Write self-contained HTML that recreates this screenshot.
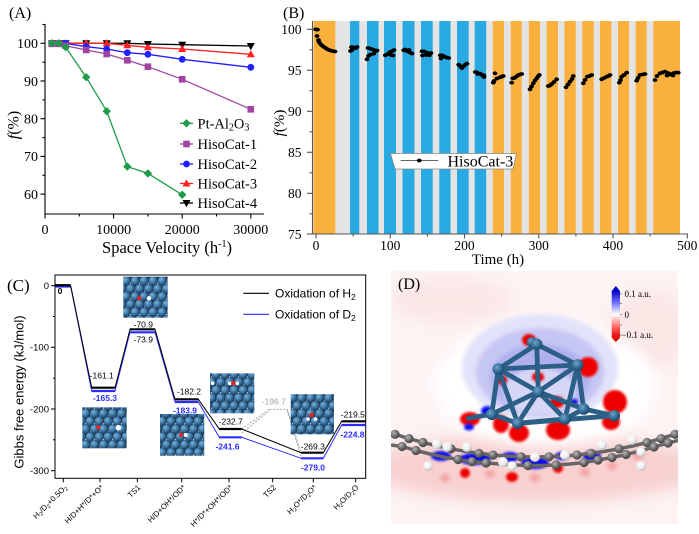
<!DOCTYPE html>
<html><head><meta charset="utf-8"><style>
html,body{margin:0;padding:0;background:#fff;}
svg{display:block;}
</style></head><body>
<svg width="699" height="534" viewBox="0 0 699 534" xmlns="http://www.w3.org/2000/svg">
<defs>
<path id="dia" d="M0,-4.2L4.2,0L0,4.2L-4.2,0Z"/>
<rect id="sq" x="-3.3" y="-3.3" width="6.6" height="6.6"/>
<circle id="cir" r="3.4"/>
<path id="tu" d="M0,-4.2L4,3L-4,3Z"/>
<path id="td" d="M0,4.2L4,-3L-4,-3Z"/>
<ellipse id="dot" rx="2.4" ry="1.9"/>
<radialGradient id="gSph" cx="0.38" cy="0.35" r="0.7">
<stop offset="0" stop-color="#7fb3d9"/><stop offset="0.5" stop-color="#3f7cac"/><stop offset="1" stop-color="#1b3f60"/>
</radialGradient>
<radialGradient id="gClu" cx="0.38" cy="0.35" r="0.7">
<stop offset="0" stop-color="#6ea4cc"/><stop offset="0.6" stop-color="#2f6890"/><stop offset="1" stop-color="#1a4264"/>
</radialGradient>
<radialGradient id="gGray" cx="0.38" cy="0.35" r="0.7">
<stop offset="0" stop-color="#b8b8b8"/><stop offset="0.55" stop-color="#6a6a6a"/><stop offset="1" stop-color="#3e3e3e"/>
</radialGradient>
<radialGradient id="gWhite" cx="0.38" cy="0.35" r="0.7">
<stop offset="0" stop-color="#ffffff"/><stop offset="0.6" stop-color="#ececec"/><stop offset="1" stop-color="#b5b5b5"/>
</radialGradient>
<pattern id="lat" width="9" height="15.6" patternUnits="userSpaceOnUse">
<rect width="9" height="15.6" fill="#1c3550"/>
<circle cx="0" cy="0" r="4.4" fill="url(#gSph)"/>
<circle cx="9" cy="0" r="4.4" fill="url(#gSph)"/>
<circle cx="4.5" cy="7.8" r="4.4" fill="url(#gSph)"/>
<circle cx="0" cy="15.6" r="4.4" fill="url(#gSph)"/>
<circle cx="9" cy="15.6" r="4.4" fill="url(#gSph)"/>
<circle cx="4.5" cy="2.6" r="0.7" fill="#cfe3f2"/>
<circle cx="0" cy="10.4" r="0.7" fill="#cfe3f2"/>
</pattern>
<linearGradient id="cbar" x1="0" y1="0" x2="0" y2="1">
<stop offset="0" stop-color="#0000c8"/><stop offset="0.25" stop-color="#7070ff"/><stop offset="0.5" stop-color="#ffffff"/><stop offset="0.75" stop-color="#ff7070"/><stop offset="1" stop-color="#e00000"/>
</linearGradient>
<filter id="b1" x="-50%" y="-50%" width="200%" height="200%"><feGaussianBlur stdDeviation="1.2"/></filter>
<filter id="b2" x="-50%" y="-50%" width="200%" height="200%"><feGaussianBlur stdDeviation="2"/></filter>
<filter id="b4" x="-50%" y="-50%" width="200%" height="200%"><feGaussianBlur stdDeviation="4"/></filter>
<filter id="b8" x="-50%" y="-50%" width="200%" height="200%"><feGaussianBlur stdDeviation="8"/></filter>
<clipPath id="clipD"><rect x="391" y="271" width="287" height="253"/></clipPath>
</defs>

<!-- ================= PANEL A ================= -->
<g font-family="'Liberation Serif', serif" fill="#000">
<text x="9" y="18" font-size="16">(A)</text>
<g stroke="#000" stroke-width="1.1" fill="none">
<line x1="45" y1="24" x2="45" y2="214.5"/>
<line x1="44.5" y1="214" x2="264" y2="214"/>
<line x1="40.5" y1="43.3" x2="45" y2="43.3"/>
<line x1="40.5" y1="81" x2="45" y2="81"/>
<line x1="40.5" y1="118.7" x2="45" y2="118.7"/>
<line x1="40.5" y1="156.4" x2="45" y2="156.4"/>
<line x1="40.5" y1="194.1" x2="45" y2="194.1"/>
<line x1="42.5" y1="24.5" x2="45" y2="24.5"/>
<line x1="42.5" y1="62.2" x2="45" y2="62.2"/>
<line x1="42.5" y1="99.9" x2="45" y2="99.9"/>
<line x1="42.5" y1="137.6" x2="45" y2="137.6"/>
<line x1="42.5" y1="175.3" x2="45" y2="175.3"/>
<line x1="45" y1="214" x2="45" y2="218.5"/>
<line x1="113.6" y1="214" x2="113.6" y2="218.5"/>
<line x1="182.2" y1="214" x2="182.2" y2="218.5"/>
<line x1="250.8" y1="214" x2="250.8" y2="218.5"/>
<line x1="79.3" y1="214" x2="79.3" y2="216.5"/>
<line x1="147.9" y1="214" x2="147.9" y2="216.5"/>
<line x1="216.5" y1="214" x2="216.5" y2="216.5"/>
</g>
<g font-size="14" text-anchor="end">
<text x="38" y="48">100</text>
<text x="38" y="86">90</text>
<text x="38" y="123.5">80</text>
<text x="38" y="161">70</text>
<text x="38" y="199">60</text>
</g>
<g font-size="14" text-anchor="middle">
<text x="45" y="234">0</text>
<text x="113.6" y="234">10000</text>
<text x="182.2" y="234">20000</text>
<text x="250.8" y="234">30000</text>
</g>
<text x="167" y="253" font-size="16.5" text-anchor="middle">Space Velocity (h<tspan font-size="10" dy="-6">-1</tspan><tspan dy="6">)</tspan></text>
<text transform="translate(18.5,125) rotate(-90)" font-size="16" text-anchor="middle"><tspan font-style="italic">f</tspan>(%)</text>

<g fill="none" stroke-width="1.3">
<polyline stroke="#000" points="51.9,43.3 58.7,43.3 65.6,43.3 86.2,43.3 106.7,43.3 127.3,43.3 147.9,44 182.2,44.7 250.8,46"/>
<polyline stroke="#ff2020" points="51.9,43.3 58.7,43.3 65.6,43.3 86.2,43.3 106.7,43.3 127.3,45.3 147.9,47.3 182.2,49 250.8,54.3"/>
<polyline stroke="#2020ff" points="51.9,43.3 58.7,43.3 65.6,43.3 86.2,46.7 106.7,49 127.3,52.7 147.9,54.3 182.2,59.3 250.8,67.3"/>
<polyline stroke="#a044a4" points="51.9,43.8 58.7,43.8 65.6,45.7 86.2,50 106.7,54 127.3,60.3 147.9,66.7 182.2,79.3 250.8,109.3"/>
<polyline stroke="#1e9c4a" points="51.9,43.3 58.7,43.3 65.6,47.1 86.2,77.2 106.7,111.2 127.3,166.6 147.9,173.4 182.2,194.8"/>
</g>
<g fill="#000">
<use href="#td" x="51.9" y="43.3"/><use href="#td" x="58.7" y="43.3"/><use href="#td" x="65.6" y="43.3"/><use href="#td" x="86.2" y="43.3"/><use href="#td" x="106.7" y="43.3"/><use href="#td" x="127.3" y="43.3"/><use href="#td" x="147.9" y="44"/><use href="#td" x="182.2" y="44.7"/><use href="#td" x="250.8" y="46"/>
</g>
<g fill="#ff2020">
<use href="#tu" x="51.9" y="43.3"/><use href="#tu" x="58.7" y="43.3"/><use href="#tu" x="65.6" y="43.3"/><use href="#tu" x="86.2" y="43.3"/><use href="#tu" x="106.7" y="43.3"/><use href="#tu" x="127.3" y="45.3"/><use href="#tu" x="147.9" y="47.3"/><use href="#tu" x="182.2" y="49"/><use href="#tu" x="250.8" y="54.3"/>
</g>
<g fill="#2020ff">
<use href="#cir" x="51.9" y="43.3"/><use href="#cir" x="58.7" y="43.3"/><use href="#cir" x="65.6" y="43.3"/><use href="#cir" x="86.2" y="46.7"/><use href="#cir" x="106.7" y="49"/><use href="#cir" x="127.3" y="52.7"/><use href="#cir" x="147.9" y="54.3"/><use href="#cir" x="182.2" y="59.3"/><use href="#cir" x="250.8" y="67.3"/>
</g>
<g fill="#a044a4">
<use href="#sq" x="51.9" y="43.8"/><use href="#sq" x="58.7" y="43.8"/><use href="#sq" x="65.6" y="45.7"/><use href="#sq" x="86.2" y="50"/><use href="#sq" x="106.7" y="54"/><use href="#sq" x="127.3" y="60.3"/><use href="#sq" x="147.9" y="66.7"/><use href="#sq" x="182.2" y="79.3"/><use href="#sq" x="250.8" y="109.3"/>
</g>
<g fill="#1e9c4a">
<use href="#dia" x="51.9" y="43.3"/><use href="#dia" x="58.7" y="43.3"/><use href="#dia" x="65.6" y="47.1"/><use href="#dia" x="86.2" y="77.2"/><use href="#dia" x="106.7" y="111.2"/><use href="#dia" x="127.3" y="166.6"/><use href="#dia" x="147.9" y="173.4"/><use href="#dia" x="182.2" y="194.8"/>
</g>
<g stroke-width="1.3">
<line x1="180" y1="123.3" x2="193" y2="123.3" stroke="#1e9c4a"/>
<line x1="180" y1="144" x2="193" y2="144" stroke="#a044a4"/>
<line x1="180" y1="164" x2="193" y2="164" stroke="#2020ff"/>
<line x1="180" y1="183.5" x2="193" y2="183.5" stroke="#ff2020"/>
<line x1="180" y1="203" x2="193" y2="203" stroke="#000"/>
</g>
<use href="#dia" x="186.5" y="123.3" fill="#1e9c4a"/>
<use href="#sq" x="186.5" y="144" fill="#a044a4"/>
<use href="#cir" x="186.5" y="164" fill="#2020ff"/>
<use href="#tu" x="186.5" y="183.5" fill="#ff2020"/>
<use href="#td" x="186.5" y="203" fill="#000"/>
<g font-size="14.5">
<text x="197.5" y="128.3">Pt-Al<tspan font-size="10" dy="2">2</tspan><tspan dy="-2">O</tspan><tspan font-size="10" dy="2">3</tspan></text>
<text x="197.5" y="149">HisoCat-1</text>
<text x="197.5" y="169">HisoCat-2</text>
<text x="197.5" y="188.5">HisoCat-3</text>
<text x="197.5" y="208">HisoCat-4</text>
</g>
</g>

<!-- ================= PANEL B ================= -->
<g font-family="'Liberation Serif', serif" fill="#000">
<text x="283" y="18" font-size="16">(B)</text>
<rect x="313.5" y="21" width="366.5" height="212.5" fill="#e4e4e4"/>
<g fill="#f9b03d">
<rect x="313.5" y="21" width="21.8" height="212.5"/>
<rect x="492.8" y="21" width="11.2" height="212.5"/>
<rect x="510.8" y="21" width="10.9" height="212.5"/>
<rect x="528.8" y="21" width="11.2" height="212.5"/>
<rect x="546.7" y="21" width="11.3" height="212.5"/>
<rect x="564.5" y="21" width="11.2" height="212.5"/>
<rect x="582.3" y="21" width="11.4" height="212.5"/>
<rect x="600" y="21" width="11.3" height="212.5"/>
<rect x="618" y="21" width="11" height="212.5"/>
<rect x="635.7" y="21" width="11" height="212.5"/>
<rect x="653.3" y="21" width="26.7" height="212.5"/>
</g>
<g fill="#29a9e1">
<rect x="350" y="21" width="9.3" height="212.5"/>
<rect x="367" y="21" width="11.5" height="212.5"/>
<rect x="384" y="21" width="12" height="212.5"/>
<rect x="402.5" y="21" width="12" height="212.5"/>
<rect x="421" y="21" width="11.7" height="212.5"/>
<rect x="439.3" y="21" width="11.2" height="212.5"/>
<rect x="457" y="21" width="11.7" height="212.5"/>
<rect x="474.7" y="21" width="11.5" height="212.5"/>
</g>
<g stroke="#555" stroke-width="1.1" fill="none">
<line x1="312.5" y1="21" x2="312.5" y2="234.5"/>
<line x1="312" y1="234" x2="688" y2="234"/>
<line x1="307" y1="29.3" x2="312.5" y2="29.3"/>
<line x1="307" y1="70.3" x2="312.5" y2="70.3"/>
<line x1="307" y1="111.3" x2="312.5" y2="111.3"/>
<line x1="307" y1="152.3" x2="312.5" y2="152.3"/>
<line x1="307" y1="193.3" x2="312.5" y2="193.3"/>
<line x1="307" y1="234" x2="312.5" y2="234"/>
<line x1="309.5" y1="49.8" x2="312.5" y2="49.8"/>
<line x1="309.5" y1="90.8" x2="312.5" y2="90.8"/>
<line x1="309.5" y1="131.8" x2="312.5" y2="131.8"/>
<line x1="309.5" y1="172.8" x2="312.5" y2="172.8"/>
<line x1="309.5" y1="213.8" x2="312.5" y2="213.8"/>
<line x1="316" y1="234" x2="316" y2="238.5"/>
<line x1="390.3" y1="234" x2="390.3" y2="238.5"/>
<line x1="464.5" y1="234" x2="464.5" y2="238.5"/>
<line x1="538.8" y1="234" x2="538.8" y2="238.5"/>
<line x1="613" y1="234" x2="613" y2="238.5"/>
<line x1="687.3" y1="234" x2="687.3" y2="238.5"/>
<line x1="353.1" y1="234" x2="353.1" y2="236.5"/>
<line x1="427.4" y1="234" x2="427.4" y2="236.5"/>
<line x1="501.6" y1="234" x2="501.6" y2="236.5"/>
<line x1="575.9" y1="234" x2="575.9" y2="236.5"/>
<line x1="650.1" y1="234" x2="650.1" y2="236.5"/>
</g>
<g font-size="13.5" text-anchor="end">
<text x="301.5" y="34">100</text>
<text x="301.5" y="75">95</text>
<text x="301.5" y="116">90</text>
<text x="301.5" y="157">85</text>
<text x="301.5" y="198">80</text>
<text x="301.5" y="239">75</text>
</g>
<g font-size="13.5" text-anchor="middle">
<text x="316" y="250">0</text>
<text x="390.3" y="250">100</text>
<text x="464.5" y="250">200</text>
<text x="538.8" y="250">300</text>
<text x="613" y="250">400</text>
<text x="687.3" y="250">500</text>
</g>
<text x="498" y="264" font-size="15" text-anchor="middle">Time (h)</text>
<text transform="translate(284,123) rotate(-90)" font-size="15" text-anchor="middle"><tspan font-style="italic">f</tspan>(%)</text>

<g fill="#000">
<use href="#dot" x="315.5" y="29.3"/><use href="#dot" x="317.5" y="29.6"/><use href="#dot" x="317" y="36"/><use href="#dot" x="318.5" y="40"/><use href="#dot" x="319" y="42"/><use href="#dot" x="320.5" y="44"/><use href="#dot" x="322" y="45.5"/><use href="#dot" x="323.7" y="46.8"/><use href="#dot" x="325.5" y="48"/><use href="#dot" x="327" y="49"/><use href="#dot" x="329" y="50"/><use href="#dot" x="331" y="50.7"/><use href="#dot" x="333" y="51.2"/><use href="#dot" x="335" y="51.5"/>
<use href="#dot" x="350.5" y="51"/><use href="#dot" x="351.5" y="47"/><use href="#dot" x="353" y="48.5"/><use href="#dot" x="354.5" y="47.5"/><use href="#dot" x="356" y="48"/><use href="#dot" x="352" y="50"/><use href="#dot" x="357" y="47"/>
<use href="#dot" x="367" y="59.3"/><use href="#dot" x="368.5" y="56"/><use href="#dot" x="370.3" y="54.7"/><use href="#dot" x="368" y="48"/><use href="#dot" x="370" y="48.5"/><use href="#dot" x="372" y="49.3"/><use href="#dot" x="374" y="50"/><use href="#dot" x="375.5" y="51.3"/><use href="#dot" x="373.7" y="53.7"/><use href="#dot" x="377" y="50.5"/>
<use href="#dot" x="385.3" y="55.3"/><use href="#dot" x="387" y="54.5"/><use href="#dot" x="388.7" y="53.7"/><use href="#dot" x="390" y="52"/><use href="#dot" x="392" y="51.3"/><use href="#dot" x="394" y="50"/><use href="#dot" x="391" y="55"/><use href="#dot" x="393" y="55.5"/>
<use href="#dot" x="403.7" y="50.3"/><use href="#dot" x="406" y="50.5"/><use href="#dot" x="408" y="51.5"/><use href="#dot" x="410.3" y="52.7"/><use href="#dot" x="412" y="53.5"/><use href="#dot" x="405" y="49.5"/><use href="#dot" x="409" y="50"/>
<use href="#dot" x="422" y="51.3"/><use href="#dot" x="424" y="51.5"/><use href="#dot" x="427" y="52.7"/><use href="#dot" x="429.3" y="55.3"/><use href="#dot" x="426" y="55"/><use href="#dot" x="431" y="53"/><use href="#dot" x="422.5" y="55.5"/>
<use href="#dot" x="440.3" y="55.3"/><use href="#dot" x="442.5" y="55.5"/><use href="#dot" x="444.7" y="56.7"/><use href="#dot" x="446.5" y="57.5"/><use href="#dot" x="448.7" y="58"/><use href="#dot" x="441" y="58.5"/>
<use href="#dot" x="458.7" y="64.7"/><use href="#dot" x="460" y="66"/><use href="#dot" x="461.5" y="67.5"/><use href="#dot" x="463.7" y="66"/><use href="#dot" x="465.5" y="64.5"/><use href="#dot" x="467" y="63.7"/><use href="#dot" x="462" y="68"/>
<use href="#dot" x="475.3" y="72"/><use href="#dot" x="477" y="72.5"/><use href="#dot" x="480.3" y="73.7"/><use href="#dot" x="482" y="75"/><use href="#dot" x="483.7" y="75.3"/><use href="#dot" x="484" y="77"/><use href="#dot" x="478" y="74"/>
<use href="#dot" x="493.3" y="82.7"/><use href="#dot" x="495" y="73.3"/><use href="#dot" x="497" y="78.5"/><use href="#dot" x="500" y="77.3"/><use href="#dot" x="502" y="76.5"/><use href="#dot" x="503.3" y="76"/><use href="#dot" x="494" y="81"/>
<use href="#dot" x="511.7" y="82.7"/><use href="#dot" x="512.7" y="78.3"/><use href="#dot" x="514.5" y="78"/><use href="#dot" x="516.5" y="76.5"/><use href="#dot" x="518.3" y="75"/><use href="#dot" x="520" y="74.5"/><use href="#dot" x="521.7" y="74"/>
<use href="#dot" x="530" y="89.3"/><use href="#dot" x="531.5" y="86.5"/><use href="#dot" x="533.3" y="83.3"/><use href="#dot" x="535" y="80.5"/><use href="#dot" x="536.7" y="78.3"/><use href="#dot" x="538" y="76.5"/><use href="#dot" x="539.3" y="75"/>
<use href="#dot" x="548.3" y="86"/><use href="#dot" x="550" y="85.5"/><use href="#dot" x="551.7" y="84"/><use href="#dot" x="554" y="82"/><use href="#dot" x="556.7" y="79.3"/>
<use href="#dot" x="566" y="87.3"/><use href="#dot" x="568" y="84.5"/><use href="#dot" x="570" y="81.7"/><use href="#dot" x="572" y="79"/><use href="#dot" x="573.3" y="76"/>
<use href="#dot" x="583.3" y="83.3"/><use href="#dot" x="585" y="80"/><use href="#dot" x="587.3" y="76.7"/><use href="#dot" x="589.5" y="76"/><use href="#dot" x="591.7" y="75"/>
<use href="#dot" x="601.7" y="79.3"/><use href="#dot" x="604" y="78"/><use href="#dot" x="606.7" y="76.7"/><use href="#dot" x="608.5" y="76"/><use href="#dot" x="610" y="75"/>
<use href="#dot" x="619.3" y="82.7"/><use href="#dot" x="620.5" y="80"/><use href="#dot" x="621.7" y="76.7"/><use href="#dot" x="624" y="75"/><use href="#dot" x="626.7" y="72.7"/>
<use href="#dot" x="636.7" y="80.7"/><use href="#dot" x="638" y="78"/><use href="#dot" x="640" y="75"/><use href="#dot" x="642.5" y="74.5"/><use href="#dot" x="645" y="74"/>
<use href="#dot" x="655" y="80"/><use href="#dot" x="657" y="76"/><use href="#dot" x="660" y="73.3"/><use href="#dot" x="662.5" y="72.5"/><use href="#dot" x="665" y="71.7"/><use href="#dot" x="668" y="73"/><use href="#dot" x="670" y="74.5"/><use href="#dot" x="671.7" y="74"/><use href="#dot" x="674" y="73"/><use href="#dot" x="676" y="72.5"/><use href="#dot" x="678.3" y="72.7"/><use href="#dot" x="667" y="75.5"/><use href="#dot" x="673" y="75.5"/>
</g>
<polygon points="390.5,153.5 516.5,153.5 513,169 395,169" fill="#fff" stroke="#888" stroke-width="0.8"/>
<line x1="400.7" y1="160.5" x2="438.3" y2="160.5" stroke="#333" stroke-width="0.8"/>
<ellipse cx="419.3" cy="160.5" rx="2.4" ry="1.9" fill="#000"/>
<text x="447.5" y="166.5" font-size="16">HisoCat-3</text>
</g>

<!-- ================= PANEL C ================= -->
<g font-family="'Liberation Sans', sans-serif" fill="#000">
<text x="7" y="291" font-size="17" font-family="'Liberation Serif', serif">(C)</text>
<rect x="55" y="275" width="310.7" height="203.3" fill="none" stroke="#000" stroke-width="1"/>
<g stroke="#000" stroke-width="1">
<line x1="51" y1="285.7" x2="55" y2="285.7"/>
<line x1="51" y1="347.3" x2="55" y2="347.3"/>
<line x1="51" y1="409" x2="55" y2="409"/>
<line x1="51" y1="470.7" x2="55" y2="470.7"/>
<line x1="53" y1="316.5" x2="55" y2="316.5"/>
<line x1="53" y1="378.2" x2="55" y2="378.2"/>
<line x1="53" y1="439.8" x2="55" y2="439.8"/>
<line x1="63.3" y1="478.3" x2="63.3" y2="482.3"/>
<line x1="100" y1="478.3" x2="100" y2="482.3"/>
<line x1="137.3" y1="478.3" x2="137.3" y2="482.3"/>
<line x1="181.7" y1="478.3" x2="181.7" y2="482.3"/>
<line x1="229" y1="478.3" x2="229" y2="482.3"/>
<line x1="272.7" y1="478.3" x2="272.7" y2="482.3"/>
<line x1="313.3" y1="478.3" x2="313.3" y2="482.3"/>
<line x1="355.7" y1="478.3" x2="355.7" y2="482.3"/>
</g>
<g font-size="9.5" text-anchor="end">
<text x="49" y="289">0</text>
<text x="49" y="350.7">-100</text>
<text x="49" y="412.4">-200</text>
<text x="49" y="474">-300</text>
</g>
<text transform="translate(23.5,392) rotate(-90)" font-size="13" text-anchor="middle">Gibbs free energy (kJ/mol)</text>
<g font-size="7.8" text-anchor="end">
<text transform="translate(67.5,488) rotate(-45)">H<tspan font-size="5.5" dy="1.5">2</tspan><tspan dy="-1.5">/D</tspan><tspan font-size="5.5" dy="1.5">2</tspan><tspan dy="-1.5">+0.5O</tspan><tspan font-size="5.5" dy="1.5">2</tspan></text>
<text transform="translate(104,488) rotate(-45)">H/D+H*/D*+O*</text>
<text transform="translate(141,488) rotate(-45)">TS1</text>
<text transform="translate(186,488) rotate(-45)">H/D+OH*/OD*</text>
<text transform="translate(233,488) rotate(-45)">H*/D*+OH*/OD*</text>
<text transform="translate(276.5,488) rotate(-45)">TS2</text>
<text transform="translate(317,488) rotate(-45)">H<tspan font-size="5.5" dy="1.5">2</tspan><tspan dy="-1.5">O*/D</tspan><tspan font-size="5.5" dy="1.5">2</tspan><tspan dy="-1.5">O*</tspan></text>
<text transform="translate(359,488) rotate(-45)">H<tspan font-size="5.5" dy="1.5">2</tspan><tspan dy="-1.5">O/D</tspan><tspan font-size="5.5" dy="1.5">2</tspan><tspan dy="-1.5">O</tspan></text>
</g>
<g stroke="#9a9a9a" stroke-width="0.9" stroke-dasharray="2,1.5" fill="none">
<line x1="241.7" y1="429" x2="269.3" y2="409.3"/>
<line x1="241.7" y1="433" x2="269.3" y2="410.8"/>
<line x1="269.3" y1="409.3" x2="287.3" y2="409.3"/>
<line x1="287.3" y1="409.3" x2="301" y2="452.7"/>
<line x1="287.3" y1="410.8" x2="301" y2="456"/>
</g>
<g stroke="#2b2bff" fill="none">
<polyline stroke-width="1" points="70.7,286.5 91.7,391 115,391 130,332.3 155,332.3 175,402 198.3,402 219.3,437.3 241.7,437.3 301,458.3 323.3,458.3 341.7,425 365.7,425"/>
<g stroke-width="2.2">
<line x1="55" y1="286.5" x2="70.7" y2="286.5"/>
<line x1="91.7" y1="391" x2="115" y2="391"/>
<line x1="130" y1="332.3" x2="155" y2="332.3"/>
<line x1="175" y1="402" x2="198.3" y2="402"/>
<line x1="219.3" y1="437.3" x2="241.7" y2="437.3"/>
<line x1="301" y1="458.3" x2="323.3" y2="458.3"/>
<line x1="341.7" y1="425" x2="365.7" y2="425"/>
</g>
</g>
<g stroke="#000" fill="none">
<polyline stroke-width="1" points="70.7,285.7 91.7,387.7 115,387.7 130,329.3 155,329.3 175,399.3 198.3,399.3 219.3,429 241.7,429 301,452.7 323.3,452.7 341.7,421.3 365.7,421.3"/>
<g stroke-width="2.2">
<line x1="55" y1="285.2" x2="70.7" y2="285.2"/>
<line x1="91.7" y1="387.7" x2="115" y2="387.7"/>
<line x1="130" y1="329.3" x2="155" y2="329.3"/>
<line x1="175" y1="399.3" x2="198.3" y2="399.3"/>
<line x1="219.3" y1="429" x2="241.7" y2="429"/>
<line x1="301" y1="452.7" x2="323.3" y2="452.7"/>
<line x1="341.7" y1="421.3" x2="365.7" y2="421.3"/>
</g>
</g>
<g font-size="8.5" text-anchor="middle">
<text x="60" y="294" font-weight="bold">0</text>
<text x="101.7" y="378.5">-161.1</text>
<text x="143.3" y="327.3">-70.9</text>
<text x="143.3" y="342.5">-73.9</text>
<text x="189" y="394.5">-182.2</text>
<text x="230.7" y="424.3">-232.7</text>
<text x="273.8" y="404.7" fill="#a0a0a0">-196.7</text>
<text x="312.8" y="449.3">-269.3</text>
<text x="352.8" y="417.5">-219.5</text>
</g>
<g font-size="8.5" text-anchor="middle" fill="#2b2bff" font-weight="bold">
<text x="105" y="401">-165.3</text>
<text x="185" y="413.5">-183.9</text>
<text x="227.5" y="449.5">-241.6</text>
<text x="313" y="470.5">-279.0</text>
<text x="352.5" y="437.5">-224.8</text>
</g>
<line x1="243.3" y1="293.3" x2="269" y2="293.3" stroke="#000" stroke-width="1.2"/>
<line x1="243.3" y1="314.3" x2="269" y2="314.3" stroke="#2b2bff" stroke-width="1.2"/>
<g font-size="12">
<text x="275" y="297.5">Oxidation of H<tspan font-size="8.5" dy="2.5">2</tspan></text>
<text x="275" y="318.5">Oxidation of D<tspan font-size="8.5" dy="2.5">2</tspan></text>
</g>
<rect x="123.3" y="276.7" width="44.4" height="41" fill="url(#lat)"/>
<circle cx="139.3" cy="298.3" r="2" fill="#ff1a1a"/><circle cx="149" cy="298.3" r="2.2" fill="#fff"/>
<rect x="82.3" y="407.3" width="44.4" height="41" fill="url(#lat)"/>
<circle cx="98.3" cy="427.3" r="2" fill="#ff1a1a"/><circle cx="118.3" cy="427.7" r="2.8" fill="#fff"/>
<rect x="160" y="414" width="44.3" height="41.7" fill="url(#lat)"/>
<circle cx="181" cy="435" r="2" fill="#ff1a1a"/><circle cx="185.7" cy="435" r="2" fill="#fff"/>
<rect x="210" y="373.3" width="44.3" height="40" fill="url(#lat)"/>
<circle cx="212.7" cy="383.3" r="1.8" fill="#fff"/>
<circle cx="229.7" cy="383.5" r="1.8" fill="#fff"/><circle cx="237.3" cy="383.5" r="1.8" fill="#fff"/>
<circle cx="233.3" cy="383.3" r="2.2" fill="#ff1a1a"/>
<rect x="290.7" y="394.3" width="43.3" height="40" fill="url(#lat)"/>
<circle cx="308" cy="419" r="1.8" fill="#fff"/><circle cx="315.5" cy="419" r="1.8" fill="#fff"/>
<circle cx="311.7" cy="415" r="2.2" fill="#ff1a1a"/>
</g>

<!-- ================= PANEL D ================= -->
<g clip-path="url(#clipD)">
<rect x="391" y="271" width="287" height="253" fill="#fdf3f3"/>
<ellipse cx="450" cy="300" rx="60" ry="22" fill="#fbe6e6" filter="url(#b8)"/>
<ellipse cx="650" cy="330" rx="40" ry="40" fill="#fbe6e6" filter="url(#b8)"/>
<ellipse cx="535" cy="468" rx="170" ry="34" fill="#f8d0d0" filter="url(#b8)"/>
<ellipse cx="545" cy="385" rx="112" ry="62" fill="#ffffff" filter="url(#b8)"/>
<ellipse cx="540" cy="368" rx="78" ry="54" fill="#e2e2fa" filter="url(#b2)"/>
<ellipse cx="540" cy="372" rx="64" ry="44" fill="#c6c6f4" filter="url(#b2)"/>
<ellipse cx="540" cy="378" rx="50" ry="34" fill="#b0b0ee" filter="url(#b2)"/>
<ellipse cx="540" cy="392" rx="36" ry="24" fill="#d6d6f6" filter="url(#b2)"/>
<g fill="#ee0000" filter="url(#b1)">
<ellipse cx="529" cy="340" rx="7" ry="6"/>
<ellipse cx="588" cy="367" rx="10" ry="10"/>
<ellipse cx="538" cy="377" rx="6" ry="5"/>
<ellipse cx="502" cy="380" rx="5" ry="5"/>
<ellipse cx="470" cy="419" rx="10" ry="7"/>
<ellipse cx="501" cy="424" rx="8" ry="9"/>
<ellipse cx="519" cy="433" rx="10" ry="9"/>
<ellipse cx="558" cy="430" rx="12" ry="10"/>
<ellipse cx="557" cy="402" rx="7" ry="6"/>
<ellipse cx="615" cy="402" rx="12" ry="12"/>
<ellipse cx="611" cy="422" rx="9" ry="8"/>
<ellipse cx="465" cy="473" rx="5" ry="5"/>
<ellipse cx="512" cy="477" rx="6" ry="5"/>
<ellipse cx="558" cy="468" rx="5" ry="5"/>
</g>
<g fill="#f3a0a0" filter="url(#b2)">
<ellipse cx="445" cy="478" rx="5" ry="4"/>
<ellipse cx="490" cy="474" rx="5" ry="4"/>
<ellipse cx="535" cy="478" rx="5" ry="4"/>
<ellipse cx="585" cy="472" rx="5" ry="4"/>
<ellipse cx="612" cy="466" rx="5" ry="4"/>
<ellipse cx="638" cy="455" rx="6" ry="5"/>
</g>
<g fill="#1010ee" filter="url(#b1)">
<ellipse cx="487" cy="411" rx="6" ry="5"/>
<ellipse cx="469" cy="427" rx="5" ry="3.5"/>
<ellipse cx="574" cy="402" rx="4" ry="3"/>
<ellipse cx="441" cy="456" rx="10" ry="5"/>
<ellipse cx="475" cy="459" rx="16" ry="6"/>
<ellipse cx="510" cy="457" rx="9" ry="5"/>
<ellipse cx="535" cy="463" rx="14" ry="6"/>
<ellipse cx="562" cy="456" rx="7" ry="4"/>
<ellipse cx="592" cy="456" rx="9" ry="5"/>
</g>
<g stroke="#666" stroke-width="3.5" fill="none" stroke-linejoin="round">
<polyline points="391,433 395,434.3 409,438.6 423,442.5 437,445.9 451,448.8 465,451.3 479,453.4 493,455 507,456.1 521,456.8 535,457 549,456.8 563,456.1 577,455 591,453.4 605,451.3 619,448.8 633,445.9 647,442.5 661,438.6 675,434.3 680,433"/>
<polyline points="391,445 402,446.5 416,450.5 430,454 444,457 458,459.5 472,461.5 486,463 500,464 514,465 528,465.5 542,465.5 556,465 570,464 584,462.5 598,460 612,457.5 626,454.5 640,451 654,447 668,443 680,440"/>
</g>
<g fill="url(#gGray)">
<circle cx="395" cy="434.3" r="4.6"/><circle cx="409" cy="438.6" r="4.6"/><circle cx="423" cy="442.5" r="4.6"/><circle cx="451" cy="448.8" r="4.6"/><circle cx="479" cy="453.4" r="4.6"/><circle cx="493" cy="455" r="4.6"/><circle cx="521" cy="456.8" r="4.6"/><circle cx="549" cy="456.8" r="4.6"/><circle cx="577" cy="455" r="4.6"/><circle cx="591" cy="453.4" r="4.6"/><circle cx="619" cy="448.8" r="4.6"/><circle cx="647" cy="442.5" r="4.6"/><circle cx="661" cy="438.6" r="4.6"/><circle cx="675" cy="434.3" r="4.6"/>
<circle cx="402" cy="446.5" r="4.6"/><circle cx="416" cy="450.5" r="4.6"/><circle cx="458" cy="459.5" r="4.6"/><circle cx="472" cy="461.5" r="4.6"/><circle cx="486" cy="463" r="4.6"/><circle cx="528" cy="465.5" r="4.6"/><circle cx="556" cy="465" r="4.6"/><circle cx="584" cy="462.5" r="4.6"/><circle cx="598" cy="460" r="4.6"/><circle cx="612" cy="457.5" r="4.6"/><circle cx="626" cy="454.5" r="4.6"/><circle cx="654" cy="447" r="4.6"/><circle cx="668" cy="443" r="4.6"/>
</g>
<g fill="url(#gWhite)">
<circle cx="437" cy="444" r="5"/><circle cx="447" cy="447" r="4.8"/><circle cx="467" cy="447" r="5"/><circle cx="428" cy="466" r="4.8"/><circle cx="503" cy="462" r="5"/><circle cx="512" cy="466" r="4.8"/><circle cx="535" cy="457" r="5"/><circle cx="565" cy="455" r="5"/><circle cx="602" cy="445" r="5"/><circle cx="632" cy="440" r="5"/><circle cx="641" cy="452" r="4.8"/><circle cx="641" cy="466" r="5"/>
</g>
<g stroke="#2c5f86" stroke-width="4.8" stroke-linecap="round" fill="none">
<line x1="536.7" y1="344.3" x2="498.3" y2="369"/>
<line x1="536.7" y1="344.3" x2="577.7" y2="365"/>
<line x1="536.7" y1="344.3" x2="538.3" y2="391.7"/>
<line x1="498.3" y1="369" x2="577.7" y2="365"/>
<line x1="498.3" y1="369" x2="538.3" y2="391.7"/>
<line x1="577.7" y1="365" x2="538.3" y2="391.7"/>
<line x1="498.3" y1="369" x2="491.7" y2="414.3"/>
<line x1="498.3" y1="369" x2="517.7" y2="423.3"/>
<line x1="577.7" y1="365" x2="583.7" y2="409"/>
<line x1="577.7" y1="365" x2="565" y2="419"/>
<line x1="538.3" y1="391.7" x2="491.7" y2="414.3"/>
<line x1="538.3" y1="391.7" x2="517.7" y2="423.3"/>
<line x1="538.3" y1="391.7" x2="565" y2="419"/>
<line x1="538.3" y1="391.7" x2="583.7" y2="409"/>
<line x1="491.7" y1="414.3" x2="517.7" y2="423.3"/>
<line x1="517.7" y1="423.3" x2="565" y2="419"/>
<line x1="517.7" y1="423.3" x2="614.3" y2="415.7"/>
<line x1="565" y1="419" x2="583.7" y2="409"/>
<line x1="583.7" y1="409" x2="614.3" y2="415.7"/>
<line x1="491.7" y1="414.3" x2="468.3" y2="418.3"/>
</g>
<g fill="url(#gClu)">
<circle cx="531.7" cy="342" r="5"/><circle cx="536.7" cy="344.3" r="5.8"/><circle cx="498.3" cy="369" r="5.8"/><circle cx="577.7" cy="365" r="5.8"/><circle cx="538.3" cy="391.7" r="5.8"/><circle cx="491.7" cy="414.3" r="5.8"/><circle cx="517.7" cy="423.3" r="5.8"/><circle cx="565" cy="419" r="5.8"/><circle cx="583.7" cy="409" r="5.8"/><circle cx="614.3" cy="415.7" r="5.8"/>
</g>
<rect x="611.7" y="291" width="8.3" height="46.7" fill="url(#cbar)"/>
<path d="M611.7,291 L615.85,286 L620,291Z" fill="#0000c8"/>
<path d="M611.7,337.7 L615.85,342 L620,337.7Z" fill="#e00000"/>
<g stroke="#555" stroke-width="0.6">
<line x1="620" y1="294" x2="622" y2="294"/><line x1="620" y1="303.5" x2="622" y2="303.5"/><line x1="620" y1="314.3" x2="622" y2="314.3"/><line x1="620" y1="325" x2="622" y2="325"/><line x1="620" y1="335" x2="622" y2="335"/>
</g>
<g font-family="'Liberation Serif', serif" font-size="9" fill="#000">
<text x="624.5" y="297">0.1 a.u.</text>
<text x="624.5" y="318">0</text>
<text x="621.5" y="338">−0.1 a.u.</text>
</g>
<text x="398" y="289" font-family="'Liberation Serif', serif" font-size="16" fill="#000">(D)</text>
</g>
</svg>
</body></html>
